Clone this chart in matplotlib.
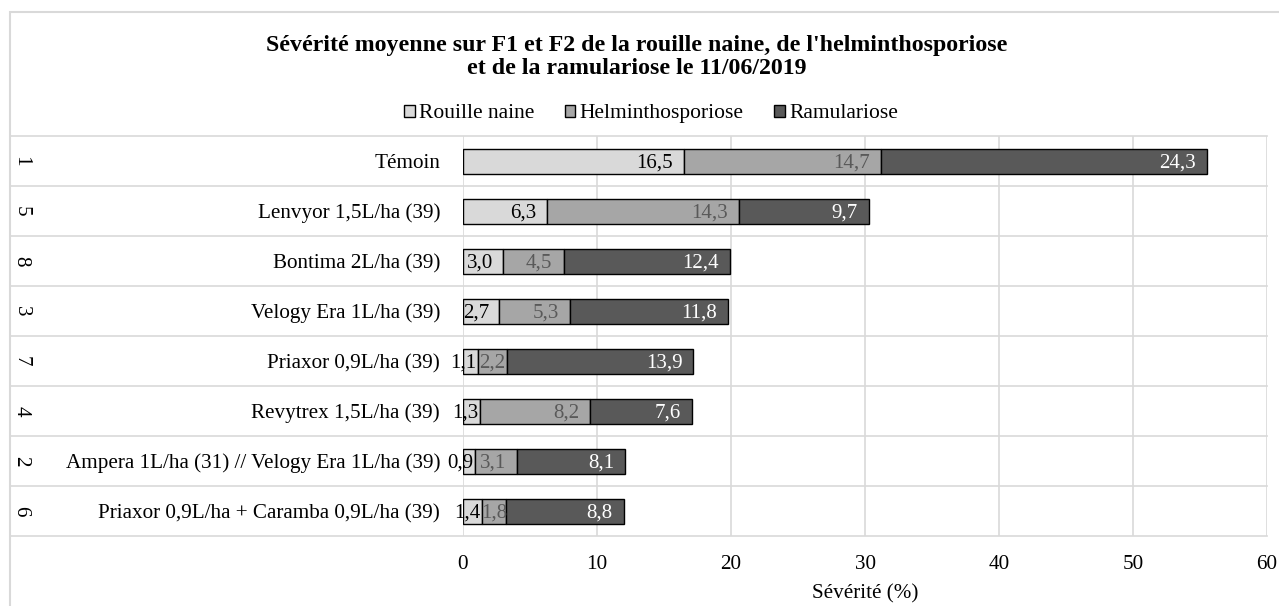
import numpy as np
import matplotlib.pyplot as plt
from matplotlib.patches import Rectangle
from matplotlib.transforms import blended_transform_factory

plt.rcParams['font.family'] = ['Liberation Serif', 'DejaVu Serif']

# data, top row first
numeros = ["1", "5", "8", "3", "7", "4", "2", "6"]
modalites = ["Témoin", "Lenvyor 1,5L/ha (39)", "Bontima 2L/ha (39)", "Velogy Era 1L/ha (39)",
             "Priaxor 0,9L/ha (39)", "Revytrex 1,5L/ha (39)",
             "Ampera 1L/ha (31) // Velogy Era 1L/ha (39)",
             "Priaxor 0,9L/ha + Caramba 0,9L/ha (39)"]
rouille = [16.5, 6.3, 3.0, 2.7, 1.1, 1.3, 0.9, 1.4]
helmintho = [14.7, 14.3, 4.5, 5.3, 2.2, 8.2, 3.1, 1.8]
ramulariose = [24.3, 9.7, 12.4, 11.8, 13.9, 7.6, 8.1, 8.8]

series = [("Rouille naine", rouille, "#D9D9D9", "black"),
          ("Helminthosporiose", helmintho, "#A6A6A6", "#595959"),
          ("Ramulariose", ramulariose, "#595959", "white")]

W, H = 1279, 606
fig = plt.figure(figsize=(W / 100, H / 100), dpi=100)
ax = fig.add_axes([463 / W, 1 - 536 / H, 804 / W, 400 / H])

grid_col = "#D9D9D9"
fs = 15.2
y = np.arange(len(modalites))
left = np.zeros(len(modalites))
for name, vals, col, tcol in series:
    vals = np.array(vals)
    ax.barh(y, vals, left=left, height=0.5, color=col, edgecolor="black",
            linewidth=1, label=name, zorder=3)
    for yi, l, v in zip(y, left, vals):
        txt = f"{v:.1f}".replace(".", ",")
        if v >= 2.6:
            # inside end
            off = -7.3 if v < 3.5 else -8
            ax.annotate(txt, xy=(l + v, yi), xytext=(off, 0), textcoords="offset points",
                        ha="right", va="center_baseline", fontsize=15, color=tcol, zorder=4)
        elif l == 0:
            ax.annotate(txt, xy=(l + v, yi), xytext=(-1.3, 0), textcoords="offset points",
                        ha="right", va="center_baseline", fontsize=15, color=tcol, zorder=4)
        else:
            ax.text(l + v / 2, yi, txt, ha="center", va="center_baseline",
                    fontsize=15, color=tcol, zorder=4)
    left = left + vals

ax.set_xlim(0, 60)
ax.set_ylim(len(modalites) - 0.5, -0.5)
ax.set_xticks(range(0, 61, 10))
ax.set_yticks(y)
ax.set_yticklabels(modalites)
ax.tick_params(axis="y", length=0, pad=16.5, labelsize=fs)
ax.tick_params(axis="x", length=0, pad=14, labelsize=fs)
for s in ax.spines.values():
    s.set_visible(False)
ax.grid(axis="x", color=grid_col, linewidth=1.2, zorder=0)
ax.set_axisbelow(True)

# row separators extending through the label area
x0 = (10 - 463) / 804
for b in np.arange(-0.5, len(modalites), 1):
    ax.axhline(b, xmin=x0, xmax=1, color=grid_col, linewidth=1.2, clip_on=False, zorder=0)

# outer numbers
tr = blended_transform_factory(fig.transFigure, ax.transData)
for yi, n in zip(y, numeros):
    ax.text(21 / W, yi, n, transform=tr, rotation=270, ha="center", va="center", fontsize=fs)

ax.set_xlabel("Sévérité (%)", fontsize=fs, labelpad=7)

fig.text(0.4975, 1 - 45 / H, "Sévérité moyenne sur F1 et F2 de la rouille naine, de l'helminthosporiose",
         ha="center", va="center", fontsize=17.2, fontweight="bold")
fig.text(0.4975, 1 - 69 / H, "et de la ramulariose le 11/06/2019",
         ha="center", va="center", fontsize=17.2, fontweight="bold")

fig.legend(loc="center", bbox_to_anchor=(0.509, 1 - 114 / H), ncol=3, frameon=False,
           fontsize=15.5, handlelength=0.5, handleheight=0.5, handletextpad=0.2,
           columnspacing=1.4)

# chart border
fig.patches.append(Rectangle((10 / W, -0.05), 1.2, 1.05 - 12 / H, transform=fig.transFigure,
                             fill=False, edgecolor=grid_col, linewidth=1.5))

fig.savefig("out.png", dpi=100)
